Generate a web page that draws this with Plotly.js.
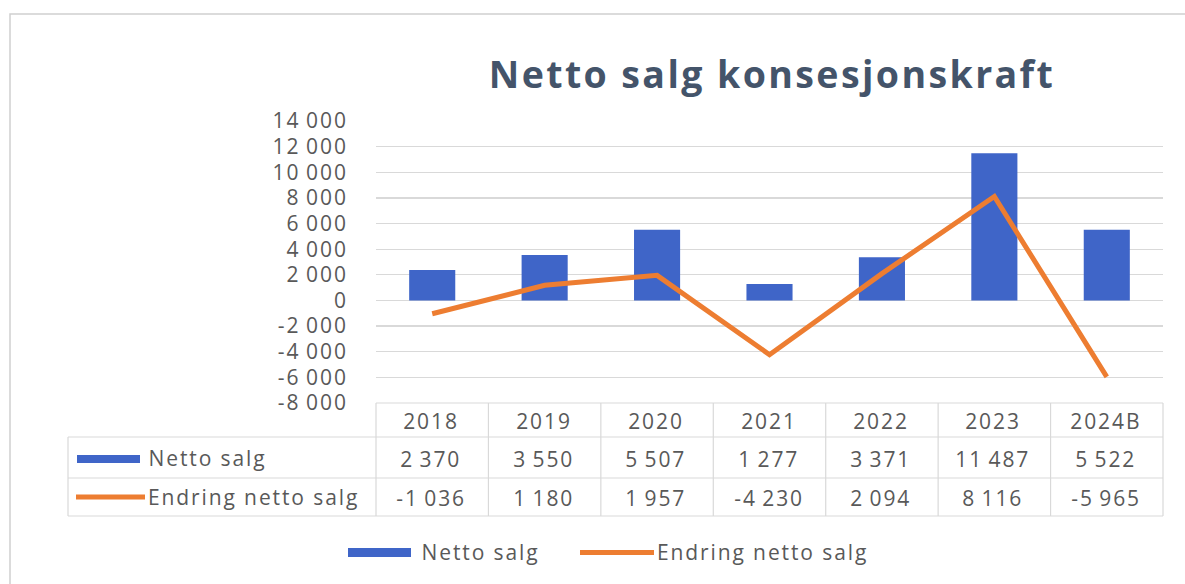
<!DOCTYPE html>
<html>
<head>
<meta charset="utf-8">
<script src="https://cdn.plot.ly/plotly-3.0.1.min.js"></script>
<style>
html,body{margin:0;padding:0;background:#fff;}
#chart{width:1185px;height:584px;}
#chart text.gtitle{letter-spacing:2.4px;}
#chart text.annotation-text{letter-spacing:1.9px;}
#chart g.ytick text{letter-spacing:2px;}
</style>
</head>
<body>
<div id="chart"></div>
<script>
const categories = ["2018", "2019", "2020", "2021", "2022", "2023", "2024B"];
const nettoSalg = [2370, 3550, 5507, 1277, 3371, 11487, 5522];
const endringNettoSalg = [-1036, 1180, 1957, -4230, 2094, 8116, -5965];
const seriesNames = ["Netto salg", "Endring netto salg"];
const yTickVals = [-8000, -6000, -4000, -2000, 0, 2000, 4000, 6000, 8000, 10000, 12000, 14000];
const titleText = "Netto salg konsesjonskraft";

const BLUE = "#3f65c8", ORANGE = "#ed7d31", TXT = "#595959", GRID = "#d9d9d9";
const FONT = "'Open Sans', Lato, sans-serif";
const FS = 21;
const LS = 1.9; // letter spacing used for annotation text (see CSS)

function fmt(v) {
  const s = Math.abs(Math.round(v)).toString().replace(/\B(?=(\d{3})+(?!\d))/g, "\u2009");
  return (v < 0 ? "-" : "") + s;
}

// pixel geometry -> paper coordinates
const W = 1185, H = 584;
const PL = 376, PR = 1163, PT = 121, PB = 403;
const px = x => (x - PL) / (PR - PL);
const py = y => (PB - y) / (PB - PT);

const n = categories.length;
const colW = (PR - PL) / n;
const rowY = [403, 437, 478, 516];

const shapes = [];
const annotations = [];
const line = (x0, y0, x1, y1, color, width) => shapes.push({type: "line", xref: "paper", yref: "paper", x0: px(x0), y0: py(y0), x1: px(x1), y1: py(y1), line: {color: color, width: width}});
const label = (x, y, t, anchor) => annotations.push({xref: "paper", yref: "paper", x: px(x), y: py(y), text: t, showarrow: false, xanchor: anchor,
  xshift: anchor === "left" ? t.length * LS / 2 : -LS / 2, yanchor: "middle", font: {family: FONT, size: FS, color: TXT}});

// outer chart border
shapes.push({type: "rect", xref: "paper", yref: "paper", x0: px(10), y0: py(14), x1: px(1200), y1: py(600), line: {color: "#d0d0d0", width: 1.5}});

// table grid
const TL = 68;
line(PL, rowY[0], PR, rowY[0], GRID, 1.2);
line(TL, rowY[1], PR, rowY[1], GRID, 1.2);
line(TL, rowY[2], PR, rowY[2], GRID, 1.2);
line(TL, rowY[3], PR, rowY[3], GRID, 1.2);
line(TL, rowY[1], TL, rowY[3], GRID, 1.2);
for (let i = 0; i <= n; i++) line(PL + i * colW, rowY[0], PL + i * colW, rowY[3], GRID, 1.2);

const rows = [categories, nettoSalg.map(fmt), endringNettoSalg.map(fmt)];
rows.forEach((r, ri) => {
  r.forEach((t, ci) => label(PL + (ci + 0.5) * colW, (rowY[ri] + rowY[ri + 1]) / 2 + 1, t, "center"));
});
// table row labels with keys
shapes.push({type: "rect", xref: "paper", yref: "paper", x0: px(77), x1: px(140), y0: py(455), y1: py(463), fillcolor: BLUE, line: {width: 0}});
line(76, 497, 145, 497, ORANGE, 5);
label(146, 458, seriesNames[0], "left");
label(146, 497, seriesNames[1], "left");

// bottom legend
shapes.push({type: "rect", xref: "paper", yref: "paper", x0: px(348), x1: px(411), y0: py(548), y1: py(557), fillcolor: BLUE, line: {width: 0}});
line(580, 552.5, 654, 552.5, ORANGE, 5);
label(419, 552, seriesNames[0], "left");
label(655, 552, seriesNames[1], "left");

const data = [
  {type: "bar", x: categories, y: nettoSalg, name: seriesNames[0], marker: {color: BLUE}, width: 0.41, showlegend: false, hoverinfo: "skip"},
  {type: "scatter", mode: "lines", x: categories, y: endringNettoSalg, name: seriesNames[1], line: {color: ORANGE, width: 5}, showlegend: false, hoverinfo: "skip"}
];

const layout = {
  width: W, height: H,
  margin: {l: PL, r: W - PR, t: PT, b: H - PB, pad: 0},
  paper_bgcolor: "#fff", plot_bgcolor: "#fff",
  title: {text: "<b>" + titleText + "</b>", x: px(772), xref: "paper", xanchor: "center", y: 1 - 75 / H, yanchor: "middle", font: {family: FONT, size: 37.5, color: "#44546a"}},
  xaxis: {type: "category", range: [-0.5, n - 0.5], showticklabels: false, showgrid: false, zeroline: false, showline: false, ticks: ""},
  yaxis: {range: [-8000, 14000], tickvals: yTickVals, ticktext: yTickVals.map(fmt), showgrid: true, gridcolor: GRID, gridwidth: 1.2, zeroline: false, showline: false, ticks: "", ticklabelstandoff: 27, tickfont: {family: FONT, size: FS, color: TXT}},
  shapes: shapes,
  annotations: annotations,
  showlegend: false
};

Plotly.newPlot("chart", data, layout, {displayModeBar: false, staticPlot: true});
</script>
</body>
</html>
